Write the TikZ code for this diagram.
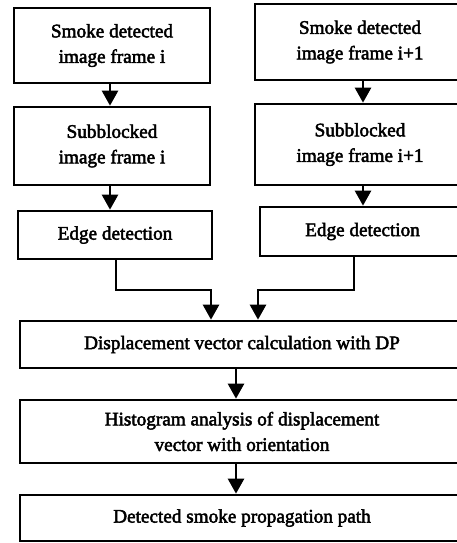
\documentclass[tikz,border=0pt]{standalone}
\usepackage{fontspec}
\setmainfont{Liberation Serif}
\newfontfamily\heavyserif{Liberation Serif}[FakeBold=2.5]
\usetikzlibrary{arrows.meta}
\begin{document}
\begin{tikzpicture}[x=1pt,y=-1pt,
  box/.style={draw,line width=2.7pt,inner sep=0pt,align=center,
    font=\heavyserif\fontsize{19.2}{25.5}\selectfont},
  arr/.style={line width=2.6pt,-{Triangle[length=15pt,width=16pt]}}]
\useasboundingbox (0,0) rectangle (457,543);
\node[box,minimum width=196pt,minimum height=75pt] (A1) at (112,45.5) {Smoke detected\\image frame i};
\node[box,minimum width=210pt,minimum height=76pt] (B1) at (360,42) {Smoke detected\\image frame i+1};
\node[box,minimum width=196pt,minimum height=78pt] (A2) at (112,146) {Subblocked\\image frame i};
\node[box,minimum width=210pt,minimum height=81pt] (B2) at (360,144.5) {Subblocked\\image frame i+1};
\node[box,minimum width=194pt,minimum height=48pt] (A3) at (115,235) {Edge detection};
\node[box,minimum width=205pt,minimum height=49pt] (B3) at (362.5,231.5) {Edge detection};
\node[box,minimum width=444pt,minimum height=47pt] (C) at (242,344.5) {Displacement vector calculation with DP};
\node[box,minimum width=444pt,minimum height=63pt] (D) at (242,431.5) {Histogram analysis of displacement\\vector with orientation};
\node[box,minimum width=444pt,minimum height=46pt] (E) at (242,518) {Detected smoke propagation path};
\coordinate (xl) at (110,0);
\coordinate (xr) at (363,0);
\coordinate (xc) at (236,0);
\coordinate (jl) at (211,290);
\coordinate (jr) at (258,290);
\draw[arr] (A1.south -| xl) -- (A2.north -| xl);
\draw[arr] (B1.south -| xr) -- (B2.north -| xr);
\draw[arr] (A2.south -| xl) -- (A3.north -| xl);
\draw[arr] (B2.south -| xr) -- (B3.north -| xr);
\draw[arr] ([xshift=1pt]A3.south) |- (jl) -- (jl |- C.north);
\draw[arr] ([xshift=-8.5pt]B3.south) |- (jr) -- (jr |- C.north);
\draw[arr] (C.south -| xc) -- (D.north -| xc);
\draw[arr] (D.south -| xc) -- (E.north -| xc);
\end{tikzpicture}
\end{document}
